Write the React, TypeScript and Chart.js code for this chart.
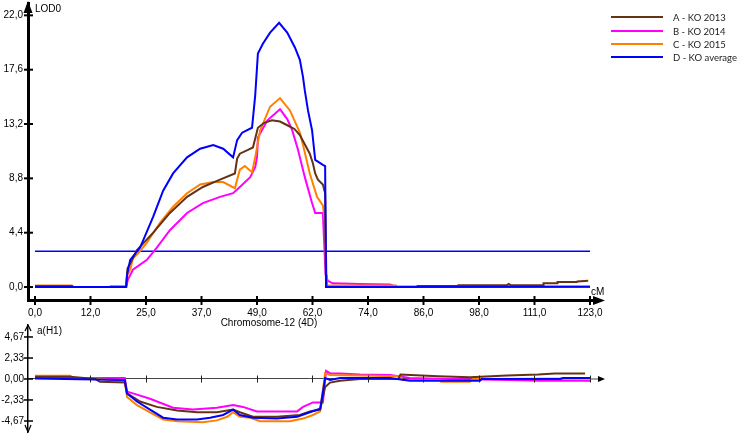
import React, { useEffect, useRef } from 'react';
import { Chart, registerables } from 'chart.js';

Chart.register(...registerables);

// ---------- series ----------
const seriesNames = ['A - KO 2013', 'B - KO 2014', 'C - KO 2015', 'D - KO average'];
const seriesColors = ['#643214', '#ff00ff', '#ff8000', '#0000ff'];

// ---------- axis ticks ----------
const xTickValues = [0, 12.3, 24.6, 36.9, 49.2, 61.5, 73.8, 86.1, 98.4, 110.7, 123];
const xTickLabels = ['0,0', '12,0', '25,0', '37,0', '49,0', '62,0', '74,0', '86,0', '98,0', '111,0', '123,0'];
const lodTickValues = [0, 4.4, 8.8, 13.2, 17.6, 22];
const lodTickLabels = ['0,0', '4,4', '8,8', '13,2', '17,6', '22,0'];
const effTickValues = [-4.67, -2.33, 0, 2.33, 4.67];
const effTickLabels = ['-4,67', '-2,33', '0,00', '2,33', '4,67'];

const xAxisTitle = 'Chromosome-12 (4D)';
const xUnit = 'cM';
const lodTitle = 'LOD0';
const effTitle = 'a(H1)';

// ---------- LOD profiles (top panel) ----------
const lodA_cM = [0, 8.2, 8.4, 16.6, 16.7, 20.2, 20.5, 21.1, 22.6, 26.2, 29.9, 33.7, 37.2, 41.0, 44.3, 44.8, 45.4, 47.2, 48.3, 49.4, 50.8, 52.5, 54.3, 55.9, 57.5, 58.7, 60.9, 61.6, 62.1, 62.7, 63.8, 64.3, 64.6, 84.7, 84.8, 93.7, 93.8, 104.6, 105.0, 105.4, 112.6, 112.7, 115.7, 115.8, 120.1, 120.2, 122.6];
const lodA = [0.08, 0.08, 0, 0, 0.05, 0.05, 1.5, 1.9, 3.0, 4.4, 6.0, 7.3, 8.1, 8.7, 9.2, 10.4, 10.8, 11.1, 11.3, 12.9, 13.3, 13.5, 13.4, 13.1, 12.8, 12.3, 10.8, 10.0, 9.2, 8.7, 8.3, 7.6, 0, 0, 0.08, 0.08, 0.15, 0.15, 0.25, 0.15, 0.15, 0.3, 0.3, 0.4, 0.4, 0.45, 0.5];

const lodB_cM = [0, 20.2, 20.6, 21.7, 24.8, 27.0, 29.9, 33.7, 37.2, 41.0, 43.9, 45.4, 47.7, 48.8, 49.2, 49.4, 51.5, 54.3, 55.9, 57.0, 58.3, 59.8, 61.4, 62.1, 63.8, 64.4, 64.9, 66.0, 72.0, 78.7, 80.0, 123];
const lodB = [0, 0, 0.6, 1.4, 2.2, 3.2, 4.6, 6.0, 6.8, 7.3, 7.6, 8.1, 8.9, 9.7, 10.5, 12.1, 13.5, 14.4, 13.6, 12.7, 11.1, 8.9, 6.8, 6.0, 6.0, 1.0, 0.5, 0.3, 0.25, 0.2, 0.02, 0.02];

const lodC_cM = [0, 8.2, 8.5, 20.2, 20.5, 21.1, 21.7, 22.8, 24.8, 27.7, 30.6, 33.7, 36.6, 39.5, 41.7, 44.3, 45.4, 46.5, 48.1, 48.8, 49.9, 52.1, 54.3, 56.5, 58.7, 59.4, 60.9, 62.5, 63.8, 64.3, 64.5, 64.7, 80.0, 80.1, 123];
const lodC = [0.12, 0.12, 0, 0, 1.0, 1.4, 2.3, 2.7, 3.6, 5.2, 6.5, 7.6, 8.3, 8.5, 8.5, 8.0, 9.5, 9.8, 9.3, 10.5, 12.7, 14.6, 15.3, 14.3, 12.5, 11.5, 9.2, 7.3, 6.6, 5.2, 1.0, 0.12, 0.12, 0.02, 0.02];

const lodD_cM = [0, 20.2, 20.4, 21.1, 23.3, 26.2, 28.4, 30.6, 33.7, 36.6, 39.5, 41.7, 43.9, 44.8, 45.9, 48.1, 48.8, 49.4, 50.5, 52.1, 54.1, 55.9, 57.6, 58.7, 59.4, 59.8, 60.5, 61.4, 62.1, 63.8, 64.3, 64.5, 123];
const lodD = [0, 0, 1.0, 2.2, 3.2, 5.7, 7.8, 9.2, 10.5, 11.2, 11.5, 11.2, 10.5, 11.9, 12.5, 12.9, 15.5, 18.9, 19.7, 20.6, 21.4, 20.6, 19.4, 18.4, 17.0, 15.9, 14.3, 12.7, 10.3, 9.9, 9.8, 0, 0.02];

const thresholdCM = [0, 123];
const thresholdLOD = [2.9, 2.9];

// ---------- additive effects (bottom panel) ----------
const effA_cM = [0, 7.8, 13.3, 14.4, 19.9, 20.4, 23.3, 27.0, 31.5, 35.9, 40.3, 43.9, 45.4, 48.3, 53.6, 58.7, 60.9, 63.2, 64.3, 65.4, 67.6, 72.0, 80.5, 81.0, 89.3, 96.4, 104.6, 111.5, 115.2, 121.9];
const effA = [0.25, 0.25, 0, -0.3, -0.4, -1.6, -2.5, -3.1, -3.5, -3.7, -3.7, -3.4, -3.7, -4.2, -4.2, -4.0, -3.6, -3.4, -0.9, -0.4, -0.2, 0.0, 0.0, 0.5, 0.3, 0.2, 0.4, 0.5, 0.6, 0.6];

const effB_cM = [0, 19.9, 20.4, 21.7, 25.5, 30.6, 35.0, 40.3, 43.9, 46.1, 49.2, 58.1, 59.4, 61.6, 63.8, 64.5, 65.4, 67.6, 72.0, 78.7, 83.1, 92.0, 105.3, 111.9, 123];
const effB = [0.1, 0.1, -1.4, -1.6, -2.2, -3.2, -3.4, -3.2, -2.9, -3.1, -3.6, -3.6, -3.1, -2.6, -2.6, 0.9, 0.65, 0.6, 0.5, 0.45, 0.1, 0, -0.1, -0.2, -0.2];

const effC_cM = [0, 7.8, 8.5, 14.4, 19.9, 20.4, 22.6, 25.5, 28.4, 31.5, 37.2, 40.3, 42.6, 43.9, 45.4, 47.7, 49.9, 56.5, 59.4, 61.6, 63.2, 64.3, 65.4, 72.0, 80.9, 81.5, 89.8, 90.0, 96.4, 97.0, 123];
const effC = [0.35, 0.35, 0.1, 0, -0.3, -2.0, -2.9, -3.7, -4.5, -4.7, -4.8, -4.6, -4.2, -3.7, -4.2, -4.3, -4.7, -4.7, -4.4, -4.0, -3.6, 0.65, 0.45, 0.4, 0.3, -0.1, -0.1, -0.3, -0.3, 0, 0.05];

const effD_cM = [0, 19.9, 20.4, 22.6, 25.5, 28.4, 31.5, 35.9, 38.8, 41.7, 43.9, 45.4, 48.3, 53.6, 58.1, 60.9, 63.2, 64.3, 65.4, 67.6, 78.7, 83.1, 98.6, 99.0, 116.4, 117.0, 123];
const effD = [0.05, -0.1, -1.6, -2.5, -3.4, -4.3, -4.5, -4.5, -4.3, -4.0, -3.4, -4.0, -4.3, -4.4, -4.2, -3.7, -3.3, 0.1, -0.1, 0.1, 0.1, -0.2, -0.2, 0, 0, 0.1, 0.1];

// ---------- helpers ----------
const FONT = "'Liberation Sans', Arial, sans-serif";
const LEGEND_FONT = "Lato, 'Open Sans', sans-serif";
const xy = (xs: number[], ys: number[]) => xs.map((x, i) => ({ x, y: ys[i] }));

const line = (ctx: CanvasRenderingContext2D, x1: number, y1: number, x2: number, y2: number) => {
  ctx.beginPath();
  ctx.moveTo(x1, y1);
  ctx.lineTo(x2, y2);
  ctx.stroke();
};

const topDecor = {
  id: 'topDecor',
  afterDraw(chart: any) {
    const { ctx, chartArea } = chart;
    const { left, right, bottom } = chartArea;
    const xs = chart.scales.x;
    const ys = chart.scales.y;
    ctx.save();
    ctx.fillStyle = '#000';
    ctx.strokeStyle = '#000';
    // y arrow
    ctx.beginPath();
    ctx.moveTo(left, 1);
    ctx.lineTo(left - 4.5, 13);
    ctx.lineTo(left + 4.5, 13);
    ctx.closePath();
    ctx.fill();
    ctx.lineWidth = 3;
    line(ctx, left, 10, left, chartArea.top + 2);
    // y tick marks
    ctx.lineWidth = 2;
    lodTickValues.forEach((v) => {
      const py = ys.getPixelForValue(v);
      line(ctx, left - 4, py, left + 5, py);
    });
    // x axis extension + arrow
    ctx.lineWidth = 3;
    line(ctx, right - 2, bottom + 0.5, right + 6, bottom + 0.5);
    ctx.beginPath();
    ctx.moveTo(right + 3, bottom - 4);
    ctx.lineTo(right + 15, bottom + 0.5);
    ctx.lineTo(right + 3, bottom + 5);
    ctx.closePath();
    ctx.fill();
    // x tick marks
    ctx.lineWidth = 2;
    xTickValues.forEach((v) => {
      const px = xs.getPixelForValue(v);
      line(ctx, px, bottom - 4, px, bottom + 5);
    });
    // texts
    ctx.font = `10px ${FONT}`;
    ctx.textBaseline = 'middle';
    ctx.textAlign = 'left';
    ctx.fillText(lodTitle, left + 7, 9);
    ctx.fillText(xUnit, right + 1, 292);
    ctx.textAlign = 'center';
    ctx.fillText(xAxisTitle, 269, 323);
    // legend
    const ly = [17, 31, 44, 57];
    ctx.font = `9.5px ${LEGEND_FONT}`;
    ctx.textAlign = 'left';
    seriesNames.forEach((name, i) => {
      ctx.strokeStyle = seriesColors[i];
      ctx.lineWidth = 2;
      line(ctx, 611, ly[i], 663, ly[i]);
      ctx.fillStyle = '#222';
      ctx.fillText(name, 673, ly[i] + 0.5);
    });
    ctx.restore();
  },
};

const bottomDecor = {
  id: 'bottomDecor',
  afterDraw(chart: any) {
    const { ctx, chartArea } = chart;
    const { left, right, top, bottom } = chartArea;
    const xs = chart.scales.x;
    const ys = chart.scales.y;
    const y0 = ys.getPixelForValue(0);
    ctx.save();
    ctx.strokeStyle = '#000';
    ctx.fillStyle = '#000';
    ctx.lineWidth = 1.2;
    // y arrows
    line(ctx, left - 3, top + 6, left, top);
    line(ctx, left, top, left + 3, top + 6);
    line(ctx, left - 3, bottom - 7, left, bottom);
    line(ctx, left, bottom, left + 3, bottom - 7);
    // y ticks
    ctx.lineWidth = 1.5;
    effTickValues.forEach((v) => {
      const py = ys.getPixelForValue(v);
      line(ctx, left - 4, py, left + 5, py);
    });
    // x ticks on zero line
    ctx.lineWidth = 1;
    ctx.strokeStyle = '#222';
    xTickValues.forEach((v, i) => {
      if (i === 0) return;
      const px = Math.round(xs.getPixelForValue(v)) + 0.5;
      line(ctx, px, y0 - 3.5, px, y0 + 3.5);
    });
    // x arrow
    ctx.strokeStyle = '#444';
    line(ctx, right, y0, right + 10, y0);
    ctx.beginPath();
    ctx.moveTo(right + 8, y0 - 3);
    ctx.lineTo(right + 15, y0);
    ctx.lineTo(right + 8, y0 + 3);
    ctx.closePath();
    ctx.fill();
    // title
    ctx.fillStyle = '#000';
    ctx.font = `10px ${FONT}`;
    ctx.textBaseline = 'middle';
    ctx.textAlign = 'left';
    ctx.fillText(effTitle, left + 9, 11);
    ctx.restore();
  },
};

const lineDs = (label: string, xs: number[], ys: number[], color: string, order: number, width = 2) => ({
  label,
  data: xy(xs, ys),
  borderColor: color,
  backgroundColor: color,
  borderWidth: width,
  pointRadius: 0,
  tension: 0,
  fill: false,
  order,
});

export default function App() {
  const topRef = useRef<HTMLCanvasElement>(null);
  const botRef = useRef<HTMLCanvasElement>(null);

  useEffect(() => {
    const tickFont = { family: FONT, size: 10 };
    const top = new Chart(topRef.current as HTMLCanvasElement, {
      type: 'line',
      data: {
        datasets: [
          lineDs(seriesNames[3], lodD_cM, lodD, seriesColors[3], 0),
          lineDs(seriesNames[0], lodA_cM, lodA, seriesColors[0], 1),
          lineDs(seriesNames[2], lodC_cM, lodC, seriesColors[2], 2),
          lineDs(seriesNames[1], lodB_cM, lodB, seriesColors[1], 3),
          lineDs('threshold', thresholdCM, thresholdLOD, seriesColors[3], 4, 1.5),
        ],
      },
      options: {
        animation: false,
        responsive: false,
        maintainAspectRatio: false,
        events: [],
        layout: { padding: { left: 0, right: 147, top: 3, bottom: 0 } },
        plugins: { legend: { display: false }, tooltip: { enabled: false } },
        scales: {
          x: {
            type: 'linear',
            min: -1.55,
            max: 123,
            afterBuildTicks: (s: any) => { s.ticks = xTickValues.map((value) => ({ value })); },
            afterFit: (s: any) => { s.height = 30; s.paddingLeft = 0; s.paddingRight = 0; },
            ticks: {
              autoSkip: false,
              maxRotation: 0,
              padding: 7,
              color: '#000',
              font: tickFont,
              callback: (_v: any, i: number) => xTickLabels[i],
            },
            grid: { display: false, drawTicks: false },
            border: { display: true, color: '#000', width: 3 },
          },
          y: {
            type: 'linear',
            min: -1.05,
            max: 23,
            afterBuildTicks: (s: any) => { s.ticks = lodTickValues.map((value) => ({ value })); },
            afterFit: (s: any) => { s.width = 28; s.paddingTop = 0; s.paddingBottom = 0; },
            ticks: {
              padding: 5,
              color: '#000',
              font: tickFont,
              callback: (_v: any, i: number) => lodTickLabels[i],
            },
            grid: { display: false, drawTicks: false },
            border: { display: true, color: '#000', width: 3 },
          },
        },
      } as any,
      plugins: [topDecor],
    });

    const bot = new Chart(botRef.current as HTMLCanvasElement, {
      type: 'line',
      data: {
        datasets: [
          lineDs(seriesNames[3], effD_cM, effD, seriesColors[3], 0),
          lineDs(seriesNames[0], effA_cM, effA, seriesColors[0], 1),
          lineDs(seriesNames[2], effC_cM, effC, seriesColors[2], 2),
          lineDs(seriesNames[1], effB_cM, effB, seriesColors[1], 3),
        ],
      },
      options: {
        animation: false,
        responsive: false,
        maintainAspectRatio: false,
        events: [],
        layout: { padding: { left: 0, right: 147, top: 5, bottom: 4 } },
        plugins: { legend: { display: false }, tooltip: { enabled: false } },
        scales: {
          x: {
            type: 'linear',
            min: -1.55,
            max: 123,
            position: { y: 0 },
            afterBuildTicks: (s: any) => { s.ticks = xTickValues.map((value) => ({ value })); },
            ticks: { display: false },
            grid: { display: false, drawTicks: false },
            border: { display: true, color: '#444', width: 1 },
          },
          y: {
            type: 'linear',
            min: -5.89,
            max: 6.0,
            afterBuildTicks: (s: any) => { s.ticks = effTickValues.map((value) => ({ value })); },
            afterFit: (s: any) => { s.width = 28; s.paddingTop = 0; s.paddingBottom = 0; },
            ticks: {
              padding: 4,
              color: '#000',
              font: tickFont,
              callback: (_v: any, i: number) => effTickLabels[i],
            },
            grid: { display: false, drawTicks: false },
            border: { display: true, color: '#000', width: 1.5 },
          },
        },
      } as any,
      plugins: [bottomDecor],
    });

    return () => {
      top.destroy();
      bot.destroy();
    };
  }, []);

  return (
    <div style={{ position: 'fixed', left: 0, top: 0, width: 737, height: 436, background: '#fff' }}>
      <canvas
        ref={topRef}
        width={737}
        height={330}
        style={{ position: 'absolute', left: 0, top: 0, width: 737, height: 330 }}
      />
      <canvas
        ref={botRef}
        width={737}
        height={116}
        style={{ position: 'absolute', left: 0, top: 320, width: 737, height: 116 }}
      />
    </div>
  );
}
